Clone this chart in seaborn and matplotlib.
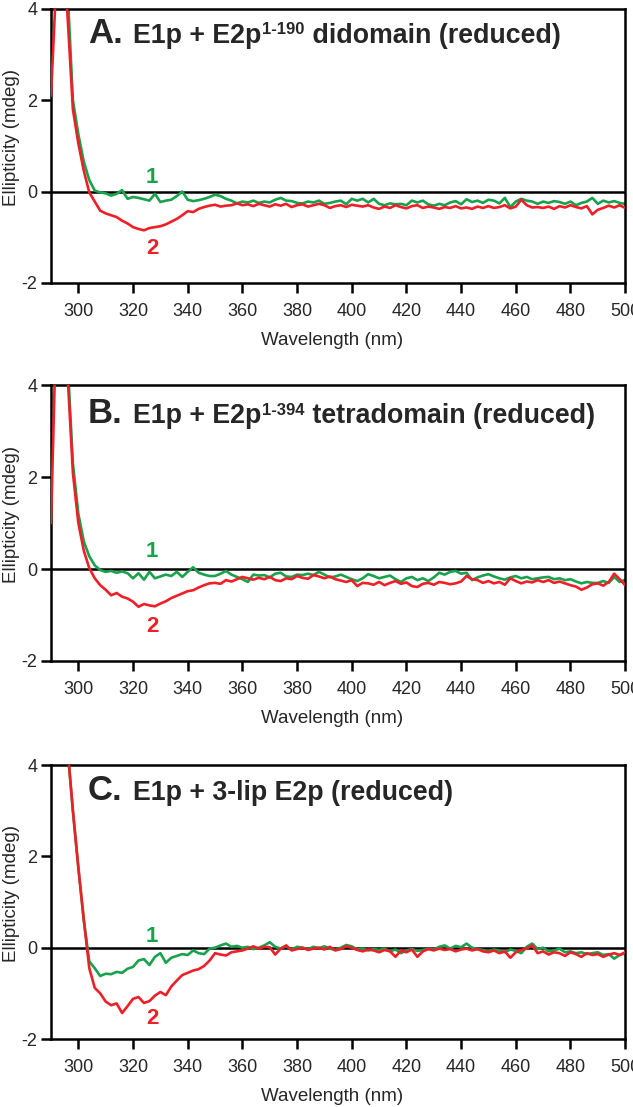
import matplotlib
matplotlib.use('Agg')
import matplotlib.pyplot as plt
import seaborn as sns

sns.set_style("ticks")
plt.rcParams['font.family'] = ['Liberation Sans', 'DejaVu Sans']

# wavelength grid (nm), 2 nm steps
wavelength = list(range(290, 501, 2))

# Panel A: E1p + E2p(1-190) didomain
a_green = [3.9, 6.5, 7.0, 4.5, 2.0, 1.25, 0.65, 0.25, 0.02, -0.02,
           -0.04, -0.09, -0.05, 0.03, -0.16, -0.12, -0.14, -0.17, -0.2, -0.05,
           -0.23, -0.2, -0.18, -0.1, 0.0, -0.18, -0.21, -0.19, -0.16, -0.12,
           -0.07, -0.1, -0.16, -0.2, -0.26, -0.22, -0.24, -0.2, -0.25, -0.22,
           -0.24, -0.18, -0.14, -0.2, -0.21, -0.25, -0.26, -0.22, -0.24, -0.2,
           -0.27, -0.25, -0.22, -0.2, -0.28, -0.16, -0.2, -0.16, -0.24, -0.16,
           -0.27, -0.3, -0.26, -0.28, -0.27, -0.3, -0.2, -0.24, -0.2, -0.28,
           -0.31, -0.27, -0.3, -0.24, -0.21, -0.28, -0.17, -0.23, -0.2, -0.25,
           -0.18, -0.2, -0.26, -0.14, -0.34, -0.22, -0.16, -0.2, -0.22, -0.27,
           -0.22, -0.25, -0.21, -0.23, -0.27, -0.22, -0.3, -0.25, -0.22, -0.14,
           -0.27, -0.2, -0.24, -0.21, -0.25, -0.27]
a_red = [2.1, 4.7, 6.0, 3.9, 1.8, 1.05, 0.45, -0.02, -0.22, -0.42,
         -0.48, -0.52, -0.56, -0.64, -0.7, -0.78, -0.82, -0.85, -0.8, -0.78,
         -0.76, -0.72, -0.66, -0.6, -0.52, -0.43, -0.45, -0.38, -0.34, -0.31,
         -0.29, -0.33, -0.31, -0.3, -0.26, -0.3, -0.28, -0.32, -0.27, -0.3,
         -0.33, -0.28, -0.31, -0.27, -0.34, -0.3, -0.28, -0.33, -0.3, -0.27,
         -0.3, -0.36, -0.32, -0.3, -0.34, -0.29, -0.31, -0.33, -0.3, -0.35,
         -0.38, -0.33, -0.36, -0.3, -0.34, -0.37, -0.32, -0.3, -0.36, -0.33,
         -0.35, -0.38, -0.34, -0.36, -0.32, -0.37, -0.35, -0.38, -0.33, -0.36,
         -0.32, -0.36, -0.34, -0.3, -0.37, -0.33, -0.18, -0.3, -0.35, -0.34,
         -0.36, -0.33, -0.38, -0.32, -0.35, -0.3, -0.34, -0.37, -0.32, -0.5,
         -0.4, -0.36, -0.31, -0.35, -0.3, -0.36]

# Panel B: E1p + E2p(1-394) tetradomain
b_green = [5.5, 8.0, 6.5, 4.6, 2.3, 1.2, 0.6, 0.28, 0.08, -0.02,
           -0.06, -0.04, -0.08, -0.05, -0.09, -0.2, -0.09, -0.23, -0.06, -0.2,
           -0.16, -0.12, -0.15, -0.06, -0.17, -0.06, 0.04, -0.08, -0.12, -0.15,
           -0.15, -0.1, -0.04, -0.12, -0.17, -0.22, -0.28, -0.12, -0.14, -0.13,
           -0.18, -0.1, -0.08, -0.16, -0.17, -0.12, -0.13, -0.1, -0.13, -0.06,
           -0.12, -0.18, -0.16, -0.12, -0.17, -0.22, -0.26, -0.2, -0.11, -0.15,
           -0.2, -0.17, -0.14, -0.22, -0.28, -0.2, -0.17, -0.24, -0.2, -0.26,
           -0.18, -0.08, -0.12, -0.06, -0.04, -0.1, -0.08, -0.24, -0.18, -0.14,
           -0.11, -0.16, -0.2, -0.23, -0.18, -0.15, -0.2, -0.17, -0.22, -0.2,
           -0.18, -0.17, -0.22, -0.2, -0.24, -0.22, -0.27, -0.31, -0.28, -0.3,
           -0.3, -0.26, -0.3, -0.17, -0.28, -0.23]
b_red = [1.0, 5.6, 6.5, 4.3, 2.1, 1.0, 0.4, 0.02, -0.2, -0.35,
         -0.45, -0.57, -0.52, -0.6, -0.64, -0.71, -0.82, -0.76, -0.79, -0.81,
         -0.75, -0.7, -0.63, -0.58, -0.53, -0.48, -0.46, -0.4, -0.35, -0.31,
         -0.3, -0.32, -0.24, -0.27, -0.22, -0.17, -0.2, -0.23, -0.19, -0.22,
         -0.17, -0.24, -0.26, -0.2, -0.22, -0.15, -0.19, -0.21, -0.13, -0.16,
         -0.2, -0.16, -0.22, -0.25, -0.28, -0.24, -0.37, -0.3, -0.31, -0.34,
         -0.28, -0.35, -0.3, -0.26, -0.32, -0.29, -0.37, -0.39, -0.32, -0.3,
         -0.34, -0.28, -0.3, -0.33, -0.31, -0.27, -0.15, -0.22, -0.24, -0.3,
         -0.26, -0.31, -0.28, -0.34, -0.2, -0.26, -0.31, -0.27, -0.29, -0.24,
         -0.28, -0.24, -0.3, -0.27, -0.31, -0.35, -0.38, -0.45, -0.4, -0.33,
         -0.31, -0.36, -0.28, -0.1, -0.22, -0.35]

# Panel C: E1p + 3-lip E2p
c_green = [9.0, 8.0, 6.6, 4.4, 3.0, 1.75, 0.6, -0.3, -0.45, -0.62,
           -0.57, -0.58, -0.53, -0.55, -0.46, -0.42, -0.28, -0.25, -0.38, -0.2,
           -0.12, -0.33, -0.22, -0.18, -0.14, -0.16, -0.06, -0.12, -0.14, -0.02,
           0.0, 0.05, 0.09, 0.02, 0.04, 0.0, 0.02, -0.03, 0.0, 0.05,
           0.12, 0.02, -0.02, 0.03, -0.04, 0.02, 0.0, -0.03, 0.02, -0.01,
           0.03, -0.02, -0.05, 0.0, 0.06, 0.03, -0.04, -0.02, -0.06, -0.03,
           -0.05, -0.02, -0.08, -0.04, -0.12, -0.06, -0.03, -0.07, -0.05, -0.02,
           -0.04, 0.02, 0.05, -0.02, 0.04, 0.01, 0.09, 0.0, -0.03, -0.05,
           -0.08, -0.04, -0.06, -0.1, -0.04, -0.07, -0.12, 0.02, 0.09, -0.03,
           0.0, -0.08, -0.06, -0.02, -0.1, -0.08, -0.12, -0.1, -0.14, -0.12,
           -0.1, -0.16, -0.14, -0.24, -0.16, -0.12]
c_red = [9.0, 8.0, 6.6, 4.4, 3.0, 1.75, 0.6, -0.45, -0.88, -1.0,
         -1.18, -1.26, -1.22, -1.43, -1.28, -1.12, -1.08, -1.21, -1.17, -1.05,
         -0.97, -1.04, -0.85, -0.72, -0.6, -0.55, -0.5, -0.47, -0.4, -0.28,
         -0.12, -0.15, -0.17, -0.1, -0.08, -0.06, -0.02, 0.03, -0.02, 0.02,
         0.01, -0.15, -0.02, 0.05, -0.06, -0.03, 0.0, -0.05, -0.02, 0.0,
         -0.04, 0.02, -0.06, -0.03, 0.03, 0.0, -0.05, -0.08, -0.04, -0.06,
         -0.1, -0.05, -0.08, -0.2, -0.06, -0.1, -0.04, -0.2, -0.08, -0.03,
         -0.06, -0.02, -0.05, -0.03, -0.08, -0.04, -0.02, -0.06, -0.03, -0.08,
         -0.1, -0.06, -0.12, -0.08, -0.22, -0.1, -0.05, -0.02, 0.05, -0.12,
         -0.08, -0.15, -0.1, -0.12, -0.18, -0.1, -0.14, -0.2, -0.12, -0.16,
         -0.14, -0.2, -0.15, -0.12, -0.16, -0.1]

panel_letters = ['A.', 'B.', 'C.']
title_main = ['E1p + E2p', 'E1p + E2p', 'E1p + 3-lip E2p (reduced)']
title_sup = ['1-190', '1-394', '']
title_rest = [' didomain (reduced)', ' tetradomain (reduced)', '']
label1_y = [0.31, 0.38, 0.24]
label2_y = [-1.25, -1.26, -1.55]

GREEN = '#17a24b'
RED = '#ee1f27'

fig = plt.figure(figsize=(6.33, 11.07), dpi=100)
# axes boxes in figure fractions [left, bottom, width, height]
boxes = [[0.0806, 0.7445, 0.907, 0.2475],
         [0.0806, 0.4029, 0.907, 0.2490],
         [0.0806, 0.0614, 0.907, 0.2475]]
title_y = [0.877, 0.864, 0.871]

series = [(a_green, a_red), (b_green, b_red), (c_green, c_red)]

for i, box in enumerate(boxes):
    ax = fig.add_axes(box)
    g, r = series[i]
    ax.axhline(0, color='black', lw=1.8, zorder=1)
    sns.lineplot(x=wavelength, y=g, ax=ax, color=GREEN, lw=1.9, zorder=2)
    sns.lineplot(x=wavelength, y=r, ax=ax, color=RED, lw=1.9, zorder=3)

    ax.set_xlim(290, 500)
    ax.set_ylim(-2, 4)
    ax.set_xticks(range(300, 501, 20))
    ax.set_yticks([-2, 0, 2, 4])
    ax.set_yticklabels(['-2', '0', '2', '4'])
    ax.tick_params(axis='both', labelsize=13, length=7, width=1.8, color='black')
    ax.tick_params(axis='x', pad=7.5)
    ax.tick_params(axis='y', pad=3)
    for sp in ax.spines.values():
        sp.set_linewidth(1.8)
        sp.set_color('black')

    ax.set_xlabel('Wavelength (nm)', fontsize=13.5)
    ax.set_ylabel('Ellipticity (mdeg)', fontsize=13.5)
    ax.xaxis.set_label_coords(0.49, -0.178)
    ax.yaxis.set_label_coords(-0.054, 0.53)

    # numbered curve labels
    ax.text(327, label1_y[i], '1', color=GREEN, fontsize=16, fontweight='bold',
            ha='center', va='center')
    ax.text(327, label2_y[i], '2', color=RED, fontsize=16, fontweight='bold',
            ha='center', va='center')

    # panel title pieces
    ax.text(0.064, title_y[i], panel_letters[i], transform=ax.transAxes,
            fontsize=25, fontweight='bold', va='baseline', ha='left')
    t1 = ax.text(0.143, title_y[i], title_main[i], transform=ax.transAxes,
                 fontsize=19.3, fontweight='bold', va='baseline', ha='left')
    if title_sup[i]:
        t2 = ax.annotate(title_sup[i], xy=(1, 0), xycoords=t1,
                         xytext=(0.5, 8), textcoords='offset points',
                         fontsize=12, fontweight='bold', va='bottom', ha='left')
        ax.annotate(title_rest[i], xy=(1, 0), xycoords=(t2, t1),
                    fontsize=19.3, fontweight='bold', va='bottom', ha='left')

fig.savefig('out.png', dpi=100)
